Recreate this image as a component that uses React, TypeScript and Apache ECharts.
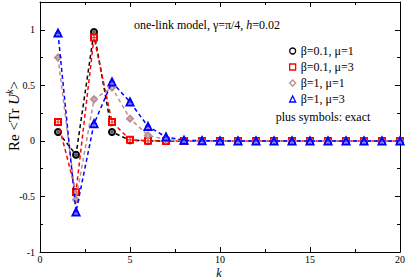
import React, { useEffect, useRef } from "react";
import * as echarts from "echarts";

const kValues = [1, 2, 3, 4, 5, 6, 7, 8, 9, 10, 11, 12, 13, 14, 15, 16, 17, 18, 19, 20];
const seriesNames = ["β=0.1, μ=1", "β=0.1, μ=3", "β=1, μ=1", "β=1, μ=3"];
const beta01mu1 = [0.08, -0.125, 0.98, 0.08, 0.005, 0, 0, 0, 0, 0, 0, 0, 0, 0, 0, 0, 0, 0, 0, 0];
const beta01mu3 = [0.17, -0.46, 0.93, 0.17, 0.01, 0.001, 0, 0, 0, 0, 0, 0, 0, 0, 0, 0, 0, 0, 0, 0];
const beta1mu1 = [0.75, -0.53, 0.375, 0.48, 0.2, 0.05, 0.01, 0.002, 0, 0, 0, 0, 0, 0, 0, 0, 0, 0, 0, 0];
const beta1mu3 = [0.97, -0.64, 0.155, 0.53, 0.35, 0.13, 0.035, 0.006, 0.001, 0, 0, 0, 0, 0, 0, 0, 0, 0, 0, 0];
const xTicks = [0, 5, 10, 15, 20];
const yTicks = [-1, -0.5, 0, 0.5, 1];

const colors = ["#000000", "#ff0000", "#bc8f8f", "#0000ff"];
const symbols = ["emptyCircle", "emptyRect", "emptyDiamond", "emptyTriangle"];
const legendIcons = ["circle", "rect", "diamond", "triangle"];
const plusPath = "path://M4,0h2v4h4v2h-4v4h-2v-4h-4v-2h4z";
const FONT = "'Liberation Serif', 'Times New Roman', serif";

export default function App() {
  const ref = useRef<HTMLDivElement>(null);
  useEffect(() => {
    if (!ref.current) return;
    const chart = echarts.init(ref.current, undefined, { renderer: "svg" });
    const datasets = [beta01mu1, beta01mu3, beta1mu1, beta1mu3];
    const series: any[] = [];
    datasets.forEach((d, i) => {
      series.push({
        name: seriesNames[i],
        type: "line",
        data: kValues.map((k, j) => [k, d[j]]),
        symbol: symbols[i],
        symbolSize: i === 3 ? 7 : 6,
        lineStyle: { color: colors[i], width: 1.5, type: [4, 3] },
        itemStyle: { color: colors[i], borderWidth: 1.2 },
        z: 2 + i,
      });
      series.push({
        name: seriesNames[i] + " exact",
        type: "scatter",
        data: kValues.map((k, j) => [k, d[j]]),
        symbol: plusPath,
        symbolSize: 6,
        itemStyle: { color: colors[i] },
        z: 2 + i,
      });
    });
    const axisLine = { show: true, onZero: false, lineStyle: { color: "#000", width: 1 } };
    chart.setOption({
      animation: false,
      grid: { left: 40, top: 2, right: 5, bottom: 27, containLabel: false, outerBoundsMode: "none" },
      legend: {
        orient: "vertical",
        left: 284,
        top: 40,
        itemWidth: 6,
        itemHeight: 6,
        itemGap: 4,
        selectedMode: false,
        textStyle: { fontFamily: FONT, fontSize: 12, color: "#000" },
        data: seriesNames.map((n, i) => ({
          name: n,
          icon: legendIcons[i],
          itemStyle: { color: "rgba(0,0,0,0)", borderColor: colors[i], borderWidth: 1.3 },
        })),
      },
      xAxis: [
        {
          type: "value",
          min: 0,
          max: 20,
          interval: 5,
          axisLine,
          axisTick: { show: true, inside: true, length: 5, lineStyle: { color: "#000" } },
          minorTick: { show: true, splitNumber: 2, length: 3, lineStyle: { color: "#000" } },
          splitLine: { show: false },
          axisLabel: {
            fontFamily: FONT,
            fontSize: 10,
            color: "#000",
            margin: 2,
            formatter: (v: number) => (xTicks.includes(v) ? String(v) : ""),
          },
        },
        {
          type: "value",
          position: "top",
          min: 0,
          max: 20,
          interval: 5,
          axisLine,
          axisTick: { show: true, inside: true, length: 5, lineStyle: { color: "#000" } },
          minorTick: { show: true, splitNumber: 2, length: 3, lineStyle: { color: "#000" } },
          splitLine: { show: false },
          axisLabel: { show: false },
        },
      ],
      yAxis: [
        {
          type: "value",
          min: -1,
          max: 1.25,
          interval: 0.5,
          axisLine,
          axisTick: { show: true, inside: true, length: 5, lineStyle: { color: "#000" } },
          minorTick: { show: true, splitNumber: 2, length: 3, lineStyle: { color: "#000" } },
          splitLine: { show: false },
          axisLabel: {
            fontFamily: FONT,
            fontSize: 10,
            color: "#000",
            margin: 5,
            formatter: (v: number) => (yTicks.includes(v) ? String(v) : ""),
          },
        },
        {
          type: "value",
          position: "right",
          min: -1,
          max: 1.25,
          interval: 0.5,
          axisLine,
          axisTick: { show: true, inside: true, length: 5, lineStyle: { color: "#000" } },
          minorTick: { show: true, splitNumber: 2, length: 3, lineStyle: { color: "#000" } },
          splitLine: { show: false },
          axisLabel: { show: false },
        },
      ],
      graphic: [
        {
          type: "text",
          x: 14,
          y: 116,
          rotation: Math.PI / 2,
          style: {
            text: "{a|Re <Tr }{b|U}{c|k}{a|>}",
            align: "center",
            verticalAlign: "middle",
            fill: "#000",
            rich: {
              a: { fontFamily: FONT, fontSize: 15, fill: "#000" },
              b: { fontFamily: FONT, fontSize: 15, fontStyle: "italic", fill: "#000" },
              c: { fontFamily: FONT, fontSize: 10, fontStyle: "italic", fill: "#000", padding: [0, 0, 9, 0] },
            },
          },
        },
        {
          type: "text",
          x: 219,
          y: 273,
          style: {
            text: "k",
            align: "center",
            verticalAlign: "middle",
            fontFamily: FONT,
            fontSize: 12,
            fontStyle: "italic",
            fill: "#000",
          },
        },
        {
          type: "text",
          x: 207,
          y: 25,
          style: {
            text: "{a|one-link model, γ=π/4, }{b|h}{a|=0.02}",
            align: "center",
            verticalAlign: "middle",
            rich: {
              a: { fontFamily: FONT, fontSize: 12, fill: "#000" },
              b: { fontFamily: FONT, fontSize: 12, fontStyle: "italic", fill: "#000" },
            },
          },
        },
        {
          type: "text",
          x: 323,
          y: 117,
          style: {
            text: "plus symbols: exact",
            align: "center",
            verticalAlign: "middle",
            fontFamily: FONT,
            fontSize: 12,
            fill: "#000",
          },
        },
      ],
      series,
    });
    return () => chart.dispose();
  }, []);
  return <div ref={ref} style={{ width: 405, height: 279, position: "absolute", left: 0, top: 0 }} />;
}
